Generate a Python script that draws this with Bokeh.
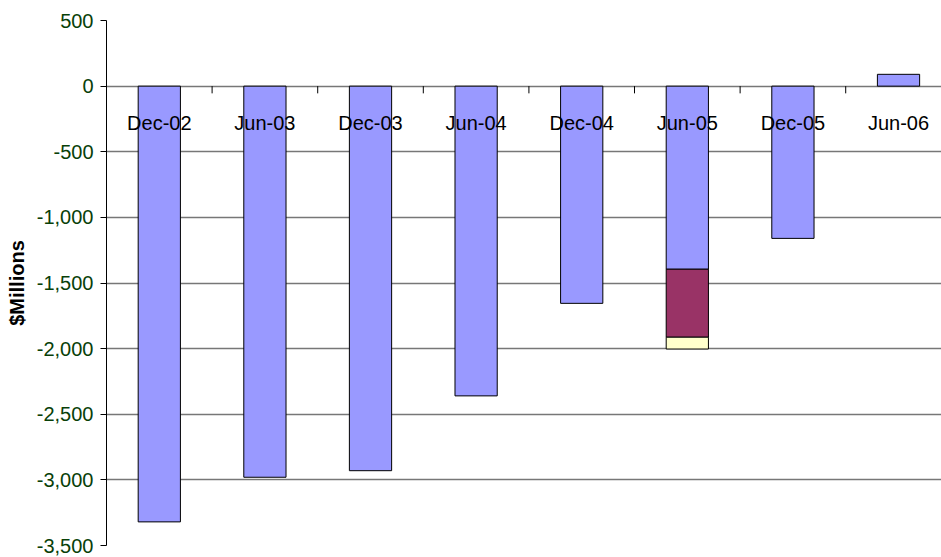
import numpy as np
from bokeh.plotting import figure
from bokeh.models import Range1d, NumeralTickFormatter, FixedTicker
from bokeh.core.properties import value
from bokeh.embed import file_html
from bokeh.resources import INLINE

categories = ["Dec-02", "Jun-03", "Dec-03", "Jun-04", "Dec-04", "Jun-05", "Dec-05", "Jun-06"]
series_a = [-3320, -2980, -2930, -2360, -1655, -1395, -1160, 90]
series_b = [0, 0, 0, 0, 0, -518, 0, 0]
series_c = [0, 0, 0, 0, 0, -90, 0, 0]
series_colors = ["#9999FF", "#993366", "#FFFFCC"]
y_ticks = [-3500, -3000, -2500, -2000, -1500, -1000, -500, 0, 500]

FONT = value("Liberation Sans")

p = figure(width=941, height=557, output_backend="svg", toolbar_location=None,
           min_border_left=106, min_border_right=0, min_border_top=20, min_border_bottom=12,
           x_range=Range1d(0, 7.907), y_range=Range1d(-3500, 500))

x = np.arange(len(categories)) + 0.5
base = np.zeros(len(categories))
for vals, col in zip([series_a, series_b, series_c], series_colors):
    v = np.array(vals, dtype=float)
    mask = v != 0
    top = base + v
    p.vbar(x=x[mask], width=0.4, bottom=base[mask], top=top[mask],
           fill_color=col, line_color="#000000", line_width=1)
    base = top

# category tick marks on the zero line
tick_x = np.arange(1, len(categories))
p.segment(x0=tick_x, x1=tick_x, y0=np.zeros(len(tick_x)), y1=np.full(len(tick_x), -55),
          line_color="#000000", line_width=1)

p.text(x=x, y=np.full(len(categories), -280), text=categories,
       text_align="center", text_baseline="middle",
       text_font=FONT, text_font_size="20px", text_color="#000000")

p.xaxis.visible = False
p.xgrid.visible = False
p.ygrid.grid_line_color = "#777777"
p.ygrid.grid_line_width = 1.3
p.yaxis.ticker = FixedTicker(ticks=y_ticks)
p.yaxis.formatter = NumeralTickFormatter(format="0,0")
p.yaxis.minor_tick_line_color = None
p.yaxis.major_tick_out = 6
p.yaxis.major_tick_in = 0
p.yaxis.major_label_standoff = 7
p.yaxis.major_label_text_font = "Liberation Sans"
p.yaxis.major_label_text_font_size = "20px"
p.yaxis.major_label_text_color = "#084008"
p.yaxis.axis_line_color = "#000000"
p.yaxis.major_tick_line_color = "#000000"
p.yaxis.axis_label = "$Millions"
p.yaxis.axis_label_text_font = "Liberation Sans"
p.yaxis.axis_label_text_font_size = "20px"
p.yaxis.axis_label_text_font_style = "bold"
p.yaxis.axis_label_text_color = "#000000"
p.yaxis.axis_label_standoff = 6
p.outline_line_color = None
p.background_fill_color = "#FFFFFF"
p.border_fill_color = "#FFFFFF"

open("out.html", "w").write(file_html(p, INLINE))
